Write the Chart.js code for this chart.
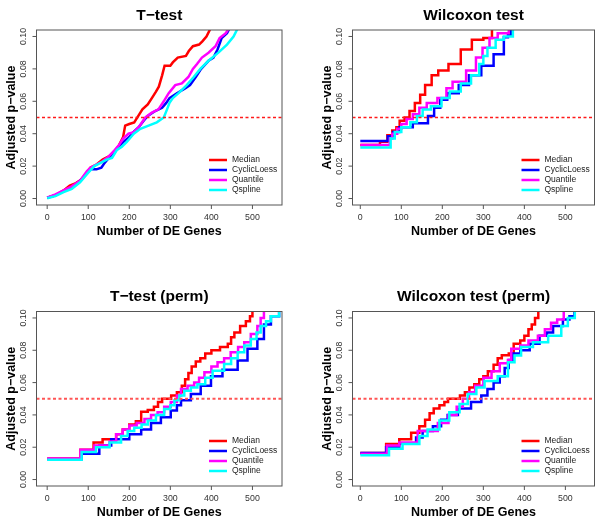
<!DOCTYPE html>
<html>
<head>
<meta charset="utf-8">
<script src="https://cdn.jsdelivr.net/npm/chart.js@4.4.1/dist/chart.umd.min.js"></script>
<style>
  body { margin: 0; background: #fff; }
  #wrap { position: relative; width: 600px; height: 522px; }
  canvas { position: absolute; }
</style>
</head>
<body>
<div id="wrap">
  <canvas id="c1" width="300" height="261" style="left:0;top:0"></canvas>
  <canvas id="c2" width="300" height="261" style="left:300px;top:0"></canvas>
  <canvas id="c3" width="300" height="261" style="left:0;top:261px"></canvas>
  <canvas id="c4" width="300" height="261" style="left:300px;top:261px"></canvas>
</div>
<script>
// series names and colours
const methods = ['Median', 'CyclicLoess', 'Quantile', 'Qspline']
const methodColors = ['#ff0000', '#0000ff', '#ff00ff', '#00ffff']

const xTicks = [0, 100, 200, 300, 400, 500]
const yTicks = [0, 0.02, 0.04, 0.06, 0.08, 0.10]
const yTickLabels = ['0.00', '0.02', '0.04', '0.06', '0.08', '0.10']
const cutoff = 0.05

// [number of DE genes, adjusted p-value]
const ttestMedian = [[0,0.0005],[20,0.002],[40,0.005],[55,0.008],[70,0.0095],[85,0.012],[100,0.017],[105,0.019],[120,0.021],[135,0.024],[150,0.026],[165,0.029],[175,0.033],[185,0.038],[190,0.045],[200,0.046],[212,0.047],[222,0.051],[232,0.055],[245,0.058],[255,0.062],[265,0.066],[272,0.069],[280,0.076],[286,0.082],[300,0.082],[306,0.084],[318,0.087],[338,0.088],[345,0.091],[355,0.094],[370,0.095],[378,0.097],[388,0.100],[396,0.104],[402,0.108]]
const ttestCyclic = [[0,0.0005],[20,0.002],[40,0.0045],[60,0.007],[80,0.011],[95,0.015],[105,0.018],[120,0.018],[132,0.019],[140,0.022],[150,0.025],[160,0.028],[170,0.031],[186,0.035],[200,0.038],[210,0.041],[223,0.044],[235,0.048],[245,0.051],[263,0.054],[280,0.056],[290,0.059],[298,0.062],[316,0.065],[336,0.068],[348,0.070],[362,0.075],[375,0.080],[393,0.085],[405,0.087],[415,0.092],[425,0.099],[438,0.102],[450,0.108]]
const ttestQuantile = [[0,0.0005],[20,0.0025],[40,0.005],[60,0.0075],[80,0.011],[97,0.017],[105,0.019],[120,0.021],[135,0.023],[150,0.026],[165,0.030],[175,0.033],[185,0.037],[198,0.040],[211,0.041],[223,0.044],[239,0.050],[255,0.053],[271,0.055],[284,0.060],[296,0.065],[312,0.070],[328,0.071],[344,0.075],[355,0.080],[365,0.083],[377,0.087],[393,0.090],[410,0.094],[420,0.099],[435,0.102],[450,0.108]]
const ttestQspline = [[0,0.0002],[20,0.0015],[40,0.004],[60,0.006],[80,0.010],[100,0.016],[115,0.020],[130,0.022],[145,0.024],[158,0.025],[170,0.030],[182,0.032],[194,0.035],[211,0.040],[227,0.043],[247,0.045],[267,0.047],[284,0.050],[292,0.055],[298,0.059],[306,0.062],[320,0.065],[340,0.070],[357,0.075],[373,0.080],[393,0.085],[417,0.090],[438,0.095],[454,0.100],[470,0.108]]

const wilcoxMedian = [[0,0.033],[48,0.035],[66,0.039],[78,0.042],[88,0.044],[96,0.048],[108,0.050],[120,0.054],[133,0.059],[146,0.064],[158,0.070],[174,0.076],[190,0.079],[215,0.083],[245,0.092],[272,0.098],[300,0.099],[321,0.12]]
const wilcoxCyclic = [[0,0.0355],[67,0.0385],[80,0.041],[95,0.044],[128,0.0465],[165,0.051],[180,0.056],[195,0.061],[212,0.065],[240,0.070],[265,0.076],[295,0.082],[325,0.089],[350,0.0995],[360,0.101],[368,0.12]]
const wilcoxQuantile = [[0,0.033],[72,0.037],[78,0.040],[90,0.043],[100,0.046],[113,0.049],[128,0.052],[144,0.056],[162,0.059],[188,0.062],[210,0.068],[225,0.072],[258,0.079],[282,0.087],[298,0.093],[315,0.099],[335,0.102],[362,0.12]]
const wilcoxQspline = [[0,0.0315],[74,0.037],[84,0.041],[100,0.044],[122,0.047],[138,0.051],[152,0.055],[172,0.057],[198,0.062],[218,0.066],[245,0.071],[270,0.076],[290,0.083],[300,0.088],[310,0.093],[330,0.098],[350,0.100],[372,0.12]]

const ttestPermMedian = [[0,0.013],[81,0.0185],[113,0.023],[135,0.025],[168,0.028],[184,0.031],[200,0.034],[216,0.036],[229,0.042],[245,0.043],[260,0.045],[270,0.048],[280,0.050],[302,0.052],[316,0.054],[328,0.058],[336,0.062],[344,0.066],[352,0.070],[362,0.073],[373,0.075],[385,0.078],[400,0.080],[421,0.082],[440,0.084],[448,0.088],[456,0.091],[470,0.095],[484,0.098],[494,0.101],[500,0.12]]
const ttestPermCyclic = [[0,0.0125],[84,0.016],[127,0.021],[156,0.025],[200,0.028],[229,0.031],[253,0.035],[277,0.0386],[301,0.0427],[316,0.046],[326,0.049],[350,0.053],[374,0.058],[399,0.064],[427,0.068],[464,0.0736],[488,0.081],[512,0.087],[528,0.096],[545,0.101],[565,0.12]]
const ttestPermQuantile = [[0,0.013],[81,0.0185],[115,0.021],[152,0.0235],[168,0.028],[184,0.031],[200,0.0334],[218,0.035],[237,0.0375],[253,0.040],[269,0.0417],[285,0.045],[301,0.048],[316,0.052],[326,0.056],[342,0.058],[358,0.060],[370,0.063],[383,0.0664],[400,0.070],[415,0.0726],[431,0.075],[447,0.0788],[465,0.082],[480,0.085],[496,0.090],[512,0.095],[520,0.100],[528,0.12]]
const ttestPermQspline = [[0,0.0123],[84,0.017],[119,0.020],[152,0.023],[180,0.027],[196,0.030],[212,0.032],[230,0.034],[245,0.0365],[265,0.040],[285,0.0437],[300,0.046],[310,0.049],[322,0.052],[334,0.055],[350,0.057],[366,0.059],[385,0.063],[403,0.0674],[431,0.0715],[448,0.075],[464,0.0788],[480,0.083],[496,0.087],[510,0.091],[520,0.095],[533,0.098],[545,0.101],[565,0.12]]

const wilcoxPermMedian = [[0,0.0165],[63,0.022],[95,0.025],[124,0.029],[144,0.033],[158,0.037],[169,0.041],[179,0.044],[193,0.046],[205,0.048],[214,0.050],[243,0.052],[255,0.054],[266,0.057],[278,0.059],[290,0.062],[300,0.064],[311,0.067],[325,0.071],[335,0.075],[345,0.077],[362,0.078],[374,0.084],[390,0.086],[400,0.089],[410,0.093],[418,0.096],[426,0.100],[434,0.12]]
const wilcoxPermCyclic = [[0,0.0165],[63,0.020],[95,0.0225],[136,0.026],[152,0.030],[177,0.033],[197,0.037],[213,0.040],[238,0.044],[270,0.048],[295,0.052],[310,0.056],[325,0.060],[340,0.064],[352,0.069],[362,0.074],[372,0.078],[390,0.080],[413,0.084],[437,0.089],[455,0.091],[470,0.095],[494,0.099],[510,0.101],[522,0.12]]
const wilcoxPermQuantile = [[0,0.016],[65,0.021],[95,0.023],[140,0.030],[189,0.035],[215,0.040],[235,0.045],[250,0.050],[265,0.054],[280,0.058],[300,0.063],[320,0.067],[340,0.072],[360,0.074],[368,0.081],[390,0.083],[410,0.086],[433,0.089],[450,0.093],[465,0.097],[480,0.099],[496,0.12]]
const wilcoxPermQspline = [[0,0.015],[70,0.019],[103,0.022],[144,0.027],[164,0.031],[193,0.0365],[217,0.0416],[242,0.0468],[262,0.053],[283,0.057],[303,0.061],[335,0.064],[360,0.0726],[376,0.0767],[392,0.082],[421,0.085],[458,0.089],[490,0.095],[506,0.100],[523,0.12]]

const FONT = '"Liberation Sans", Arial, Helvetica, sans-serif'

// draws the R style box, axes, titles and legend
const rBase = {
    id: 'rBase',
    afterDraw(chart, args, opts) {
        const ctx = chart.ctx
        const a = chart.chartArea
        const x = chart.scales.x
        const y = chart.scales.y
        const cx = (a.left + a.right) / 2
        const cy = (a.top + a.bottom) / 2
        ctx.save()
        ctx.strokeStyle = '#555'
        ctx.lineWidth = 1
        ctx.strokeRect(a.left, a.top, a.right - a.left, a.bottom - a.top)

        ctx.fillStyle = '#333'
        ctx.font = '8.8px ' + FONT
        ctx.textAlign = 'center'
        ctx.textBaseline = 'alphabetic'
        xTicks.forEach((v) => {
            const px = x.getPixelForValue(v)
            ctx.beginPath()
            ctx.moveTo(px, a.bottom)
            ctx.lineTo(px, a.bottom + 4)
            ctx.stroke()
            ctx.fillText(String(v), px, a.bottom + 14.5)
        })
        yTicks.forEach((v, i) => {
            const py = y.getPixelForValue(v)
            ctx.beginPath()
            ctx.moveTo(a.left, py)
            ctx.lineTo(a.left - 4, py)
            ctx.stroke()
            ctx.save()
            ctx.translate(a.left - 12.5, py)
            ctx.rotate(-Math.PI / 2)
            ctx.textBaseline = 'middle'
            ctx.fillText(yTickLabels[i], 0, 0)
            ctx.restore()
        })

        ctx.fillStyle = '#000'
        ctx.font = 'bold 15.5px ' + FONT
        ctx.fillText(opts.title, cx, a.top - 10.5)
        ctx.font = 'bold 12.5px ' + FONT
        ctx.fillText('Number of DE Genes', cx, a.bottom + 29.5)
        ctx.save()
        ctx.translate(a.left - 25, cy)
        ctx.rotate(-Math.PI / 2)
        ctx.textBaseline = 'middle'
        ctx.fillText('Adjusted p\u2212value', 0, 0)
        ctx.restore()

        // legend, no frame
        ctx.font = '8.5px ' + FONT
        ctx.textAlign = 'left'
        ctx.textBaseline = 'middle'
        ctx.lineWidth = 2.5
        methods.forEach((m, i) => {
            const ly = a.bottom - 45 + i * 10
            ctx.strokeStyle = methodColors[i]
            ctx.beginPath()
            ctx.moveTo(a.right - 73, ly)
            ctx.lineTo(a.right - 55, ly)
            ctx.stroke()
            ctx.fillStyle = '#222'
            ctx.fillText(m, a.right - 50, ly)
        })
        ctx.restore()
    }
}

function toXY(arr) {
    return arr.map((p) => ({x: p[0], y: p[1]}))
}

function makePanel(id, title, series, pad, xMin, xMax, stepped, dash) {
    const datasets = series.map((s, i) => ({
        label: methods[i],
        data: toXY(s),
        borderColor: methodColors[i],
        borderWidth: 2.5,
        pointRadius: 0,
        stepped: stepped,
        tension: 0,
        clip: 0,
        order: 4 - i
    }))
    datasets.push({
        label: 'cutoff',
        data: [{x: xMin, y: cutoff}, {x: xMax, y: cutoff}],
        borderColor: dash.color,
        borderWidth: dash.width,
        borderDash: [3, 2.5],
        pointRadius: 0,
        clip: 0,
        order: 0
    })

    new Chart(document.getElementById(id), {
        type: 'line',
        data: {datasets: datasets},
        options: {
            responsive: false,
            animation: false,
            devicePixelRatio: 1,
            layout: {padding: pad},
            scales: {
                x: {type: 'linear', display: false, min: xMin, max: xMax},
                y: {type: 'linear', display: false, min: -0.004, max: 0.104}
            },
            plugins: {
                legend: {display: false},
                tooltip: {enabled: false},
                rBase: {title: title}
            }
        },
        plugins: [rBase]
    })
}

const topDash = {color: '#ff1a1a', width: 1.7}
const bottomDash = {color: '#ff5555', width: 2}

makePanel('c1', 'T\u2212test', [ttestMedian, ttestCyclic, ttestQuantile, ttestQspline],
    {left: 36.5, top: 30, right: 18, bottom: 56}, -26, 572, false, topDash)
makePanel('c2', 'Wilcoxon test', [wilcoxMedian, wilcoxCyclic, wilcoxQuantile, wilcoxQspline],
    {left: 52.5, top: 30, right: 5.5, bottom: 56}, -19, 571, true, topDash)
makePanel('c3', 'T\u2212test (perm)', [ttestPermMedian, ttestPermCyclic, ttestPermQuantile, ttestPermQspline],
    {left: 36.5, top: 50.5, right: 18, bottom: 36}, -26, 572, true, bottomDash)
makePanel('c4', 'Wilcoxon test (perm)', [wilcoxPermMedian, wilcoxPermCyclic, wilcoxPermQuantile, wilcoxPermQspline],
    {left: 52.5, top: 50.5, right: 5.5, bottom: 36}, -19, 571, true, bottomDash)
</script>
</body>
</html>
